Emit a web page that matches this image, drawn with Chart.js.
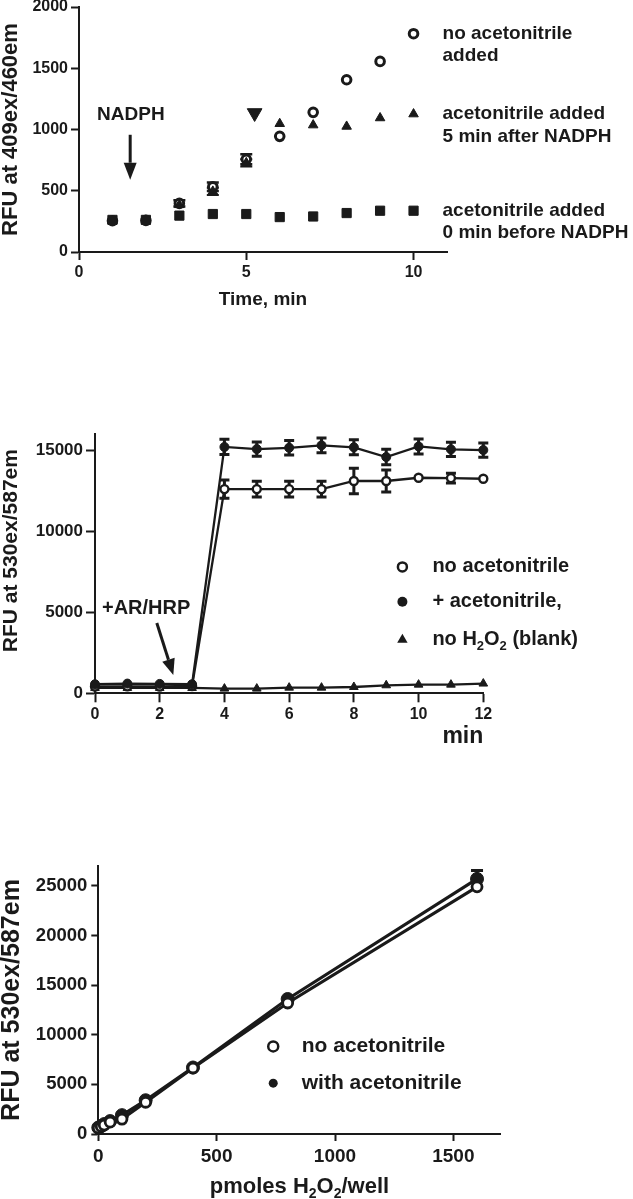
<!DOCTYPE html>
<html>
<head>
<meta charset="utf-8">
<script src="https://cdn.jsdelivr.net/npm/chart.js"></script>
<style>
  html, body { margin: 0; padding: 0; background: #fff; }
  body { width: 633px; height: 1199px; position: relative; overflow: hidden; }
  canvas { position: absolute; left: 0; }
</style>
</head>
<body>
<canvas id="nadph" width="633" height="330" style="top:-10px"></canvas>
<canvas id="kinetics" width="633" height="340" style="top:420px"></canvas>
<canvas id="standard" width="633" height="349" style="top:850px"></canvas>
<script>
// --- top panel: NADPH, RFU at 409ex/460em ---
const minutesA   = [1, 2, 3, 4, 5, 6, 7, 8, 9, 10];
const noAcnA     = [255, 258, 397, 533, 757, 944, 1140, 1406, 1556, 1782];
const noAcnErrA  = [0, 0, 25, 35, 40, 0, 0, 0, 0, 0];
const acn5A      = [255, 258, 385, 495, 728, 1047, 1036, 1025, 1094, 1126];
const acn5ErrA   = [0, 0, 0, 30, 30, 0, 0, 0, 0, 0];
const acn0A      = [262, 262, 297, 310, 310, 285, 290, 318, 337, 337];
const additionXA = [5.25];
const additionYA = [1135];
const xTicksA    = [0, 5, 10];
const yTicksA    = [0, 500, 1000, 1500, 2000];

// --- middle panel: AR/HRP kinetics, RFU at 530ex/587em ---
const minutesB    = [0, 1, 2, 3, 4, 5, 6, 7, 8, 9, 10, 11, 12];
const withAcnB    = [560, 600, 580, 560, 15200, 15070, 15150, 15300, 15180, 14580, 15230, 15050, 15010];
const withAcnErrB = [0, 0, 0, 0, 470, 440, 450, 450, 460, 480, 460, 440, 440];
const noAcnB      = [420, 430, 420, 450, 12600, 12600, 12600, 12600, 13100, 13100, 13300, 13280, 13240];
const noAcnErrB   = [0, 0, 0, 0, 560, 480, 480, 480, 780, 680, 0, 300, 0];
const blankB      = [330, 330, 330, 330, 290, 290, 350, 350, 390, 495, 535, 535, 600];
const xTicksB     = [0, 2, 4, 6, 8, 10, 12];
const yTicksB     = [0, 5000, 10000, 15000];

// --- bottom panel: H2O2 standard curve ---
const pmolesC     = [0, 12.5, 25, 50, 100, 200, 400, 800, 1600];
const noAcnC      = [600, 750, 900, 1200, 1500, 3200, 6650, 13200, 24900];
const withAcnC    = [650, 800, 1000, 1300, 1900, 3400, 6700, 13600, 25700];
const withAcnErrC = [0, 0, 0, 0, 0, 0, 0, 0, 850];
const xTicksC     = [0, 500, 1000, 1500];
const yTicksC     = [0, 5000, 10000, 15000, 20000, 25000];

const INK = '#1a1a1a';
const FONT = '"Liberation Sans", Arial, sans-serif';
Chart.defaults.font.family = FONT;
Chart.defaults.color = INK;

const pts = (xs, ys) => xs.map((x, i) => ({ x: x, y: ys[i] }));

function drawRich(ctx, text, x, y, size, align) {
  // "_2" parts are subscripts
  const parts = Array.isArray(text) ? text : [text];
  const big = 'bold ' + size + 'px ' + FONT;
  const small = 'bold ' + Math.round(size * 0.65) + 'px ' + FONT;
  let w = 0;
  parts.forEach(p => { ctx.font = p[0] === '_' ? small : big; w += ctx.measureText(p.replace(/^_/, '')).width; });
  let cx = align === 'center' ? x - w / 2 : align === 'right' ? x - w : x;
  ctx.textAlign = 'left';
  ctx.textBaseline = 'middle';
  parts.forEach(p => {
    const sub = p[0] === '_';
    const t = p.replace(/^_/, '');
    ctx.font = sub ? small : big;
    ctx.fillText(t, cx, sub ? y + size * 0.32 : y);
    cx += ctx.measureText(t).width;
  });
}

function drawMarker(ctx, kind, x, y, r) {
  ctx.beginPath();
  if (kind === 'triangle') {
    ctx.moveTo(x, y - r);
    ctx.lineTo(x + r * 0.866, y + r / 2);
    ctx.lineTo(x - r * 0.866, y + r / 2);
    ctx.closePath();
    ctx.fill();
  } else {
    ctx.arc(x, y, r, 0, Math.PI * 2);
    if (kind === 'open') { ctx.fillStyle = '#fff'; ctx.fill(); ctx.fillStyle = INK; ctx.stroke(); }
    else ctx.fill();
  }
}

const errorBars = {
  id: 'errorBars',
  beforeDatasetsDraw(chart) {
    const ctx = chart.ctx, ys = chart.scales.y;
    chart.data.datasets.forEach((ds, i) => {
      if (!ds.errors) return;
      const meta = chart.getDatasetMeta(i);
      ctx.save();
      ctx.strokeStyle = INK;
      ctx.lineWidth = ds.errWidth || 2;
      ds.data.forEach((p, j) => {
        const e = ds.errors[j];
        if (!e) return;
        const px = meta.data[j].x;
        const top = ys.getPixelForValue(p.y + e), bot = ys.getPixelForValue(p.y - e);
        const c = ds.capHalf || 5;
        ctx.beginPath();
        ctx.moveTo(px, top); ctx.lineTo(px, bot);
        ctx.moveTo(px - c, top); ctx.lineTo(px + c, top);
        ctx.moveTo(px - c, bot); ctx.lineTo(px + c, bot);
        ctx.stroke();
      });
      ctx.restore();
    });
  }
};

const notes = {
  id: 'notes',
  afterDraw(chart, args, opts) {
    const ctx = chart.ctx, xs = chart.scales.x, ys = chart.scales.y, area = chart.chartArea;
    ctx.save();
    ctx.fillStyle = INK;
    ctx.strokeStyle = INK;
    (opts.items || []).forEach(it => {
      if (it.type === 'arrow') {
        const x1 = xs.getPixelForValue(it.x1), y1 = ys.getPixelForValue(it.y1);
        const x2 = xs.getPixelForValue(it.x2), y2 = ys.getPixelForValue(it.y2);
        const a = Math.atan2(y2 - y1, x2 - x1);
        const bx = x2 - Math.cos(a) * it.head, by = y2 - Math.sin(a) * it.head;
        ctx.lineWidth = it.width;
        ctx.beginPath(); ctx.moveTo(x1, y1); ctx.lineTo(bx, by); ctx.stroke();
        ctx.beginPath();
        ctx.moveTo(x2, y2);
        ctx.lineTo(bx + Math.sin(a) * it.half, by - Math.cos(a) * it.half);
        ctx.lineTo(bx - Math.sin(a) * it.half, by + Math.cos(a) * it.half);
        ctx.closePath(); ctx.fill();
      } else if (it.type === 'legend') {
        const mx = xs.getPixelForValue(it.x);
        it.rows.forEach(r => {
          const my = ys.getPixelForValue(r.y);
          ctx.lineWidth = 2.5;
          drawMarker(ctx, r.marker, mx, my, r.r);
          drawRich(ctx, r.text, mx + it.dx, my, it.size, 'left');
        });
      } else if (it.type === 'side') {
        const x = xs.getPixelForValue(it.x) + it.dx, y = ys.getPixelForValue(it.y);
        it.lines.forEach((l, k) => drawRich(ctx, l, x, y + k * it.gap, it.size, 'left'));
      } else if (it.type === 'xtitle') {
        drawRich(ctx, it.text, (area.left + area.right) / 2, area.bottom + it.dy, it.size, 'center');
      } else if (it.type === 'ytitle') {
        ctx.save();
        ctx.translate(it.x, (area.top + area.bottom) / 2 + it.dy);
        ctx.rotate(-Math.PI / 2);
        drawRich(ctx, it.text, 0, 0, it.size, 'center');
        ctx.restore();
      } else {
        drawRich(ctx, it.text, xs.getPixelForValue(it.x), ys.getPixelForValue(it.y), it.size, it.align || 'center');
      }
    });
    ctx.restore();
  }
};

function axes(p) {
  const common = (ticks, size, len, pad) => ({
    type: 'linear',
    afterBuildTicks: s => { s.ticks = ticks.map(v => ({ value: v })); },
    grid: { display: true, drawOnChartArea: false, drawTicks: true, tickLength: len, tickWidth: 2, tickColor: INK, color: INK },
    border: { display: true, color: INK, width: 2 },
    ticks: { padding: pad, color: INK, autoSkip: false, maxRotation: 0, font: { size: size, weight: 'bold' }, callback: v => String(v) }
  });
  const x = Object.assign(common(p.xTicks, p.xTickSize, p.tickLen, p.tickPad), {
    min: p.xMin, max: p.xMax,
    afterFit: s => { s.height = p.xHeight; },
    title: p.xTitle || { display: false }
  });
  const y = Object.assign(common(p.yTicks, p.yTickSize, p.tickLen, p.tickPad), {
    min: p.yMin, max: p.yMax,
    afterFit: s => { s.width = p.yWidth; },
    title: p.yTitle || { display: false }
  });
  return { x: x, y: y };
}

const baseOptions = (padding, scales, items) => ({
  responsive: false,
  animation: false,
  events: [],
  layout: { padding: padding, autoPadding: false },
  scales: scales,
  plugins: { legend: { display: false }, tooltip: { enabled: false }, notes: { items: items } }
});

// top panel
new Chart(document.getElementById('nadph'), {
  type: 'line',
  data: {
    datasets: [
      { label: 'acetonitrile added 0 min before NADPH', data: pts(minutesA, acn0A), showLine: false,
        pointStyle: 'rect', pointRadius: 6.5, pointBackgroundColor: INK, pointBorderColor: INK, pointBorderWidth: 1, clip: false },
      { label: 'acetonitrile added 5 min after NADPH', data: pts(minutesA, acn5A), errors: acn5ErrA, capHalf: 6, errWidth: 2,
        showLine: false, pointStyle: 'triangle', pointRadius: 5.5, pointBackgroundColor: INK, pointBorderColor: INK, pointBorderWidth: 1, clip: false },
      { label: 'no acetonitrile added', data: pts(minutesA, noAcnA), errors: noAcnErrA, capHalf: 6, errWidth: 2.5,
        showLine: false, pointStyle: 'circle', pointRadius: 4.3, pointBackgroundColor: '#fff', pointBorderColor: INK, pointBorderWidth: 3, clip: false },
      { label: 'acetonitrile addition', data: pts(additionXA, additionYA), showLine: false,
        pointStyle: 'triangle', pointRotation: 180, pointRadius: 8.5, pointBackgroundColor: INK, pointBorderColor: INK, pointBorderWidth: 1, clip: false }
    ]
  },
  options: baseOptions({ left: 0, right: 186, top: 17, bottom: 8 }, axes({
    xMin: 0, xMax: 11, xTicks: xTicksA, yMin: 0, yMax: 2000, yTicks: yTicksA,
    xTickSize: 16, yTickSize: 16, tickLen: 8, tickPad: 3, xHeight: 60, yWidth: 79,
    xTitle: { display: true, text: 'Time, min', color: INK, font: { size: 19, weight: 'bold', lineHeight: 1 }, padding: { top: 0, bottom: 3 } },
    yTitle: { display: true, text: 'RFU at 409ex/460em', color: INK, font: { size: 22, weight: 'bold', lineHeight: 1 }, padding: { top: 0, bottom: 0 } }
  }), [
    { text: 'NADPH', x: 1.55, y: 1120, size: 19 },
    { type: 'arrow', x1: 1.53, y1: 957, x2: 1.53, y2: 590, width: 3, head: 17, half: 6.5 },
    { type: 'side', x: 10, y: noAcnA[9], dx: 29, gap: 22.5, size: 19, lines: ['no acetonitrile', 'added'] },
    { type: 'side', x: 10, y: acn5A[9], dx: 29, gap: 22.5, size: 19, lines: ['acetonitrile added', '5 min after NADPH'] },
    { type: 'side', x: 10, y: acn0A[9], dx: 29, gap: 22.5, size: 19, lines: ['acetonitrile added', '0 min before NADPH'] }
  ]),
  plugins: [errorBars, notes]
});

// middle panel
new Chart(document.getElementById('kinetics'), {
  type: 'line',
  data: {
    datasets: [
      { label: '+ acetonitrile,', data: pts(minutesB, withAcnB), errors: withAcnErrB, capHalf: 5, errWidth: 3,
        borderColor: INK, borderWidth: 2.3, tension: 0, pointStyle: 'circle', pointRadius: 4.5,
        pointBackgroundColor: INK, pointBorderColor: INK, pointBorderWidth: 1, clip: false },
      { label: 'no acetonitrile', data: pts(minutesB, noAcnB), errors: noAcnErrB, capHalf: 5, errWidth: 3,
        borderColor: INK, borderWidth: 2.3, tension: 0, pointStyle: 'circle', pointRadius: 4,
        pointBackgroundColor: '#fff', pointBorderColor: INK, pointBorderWidth: 2.4, clip: false },
      { label: 'no H2O2 (blank)', data: pts(minutesB, blankB),
        borderColor: INK, borderWidth: 2.3, tension: 0, pointStyle: 'triangle', pointRadius: 5,
        pointBackgroundColor: INK, pointBorderColor: INK, pointBorderWidth: 1, clip: false }
    ]
  },
  options: baseOptions({ left: 0, right: 149.7, top: 14, bottom: 11.7 }, axes({
    xMin: 0, xMax: 12, xTicks: xTicksB, yMin: 0, yMax: 16000, yTicks: yTicksB,
    xTickSize: 16, yTickSize: 17, tickLen: 9, tickPad: 3, xHeight: 55, yWidth: 95,
    xTitle: { display: true, text: 'min', align: 'end', color: INK, font: { size: 23, weight: 'bold', lineHeight: 1 }, padding: { top: 0, bottom: 0 } }
  }), [
    { type: 'ytitle', text: 'RFU at 530ex/587em', x: 11.5, dy: -13, size: 21 },
    { text: '+AR/HRP', x: 1.58, y: 5259, size: 20 },
    { type: 'arrow', x1: 1.91, y1: 4334, x2: 2.42, y2: 1128, width: 3, head: 16, half: 6.5 },
    { type: 'legend', x: 9.5, dx: 30, size: 20, rows: [
      { marker: 'open', r: 4.5, y: 7800, text: 'no acetonitrile' },
      { marker: 'filled', r: 5, y: 5650, text: '+ acetonitrile,' },
      { marker: 'triangle', r: 6, y: 3300, text: ['no H', '_2', 'O', '_2', ' (blank)'] }
    ] }
  ]),
  plugins: [errorBars, notes]
});

// bottom panel
new Chart(document.getElementById('standard'), {
  type: 'line',
  data: {
    datasets: [
      { label: 'no acetonitrile', data: pts(pmolesC, noAcnC),
        borderColor: INK, borderWidth: 3.2, tension: 0, pointStyle: 'circle', pointRadius: 5,
        pointBackgroundColor: '#fff', pointBorderColor: INK, pointBorderWidth: 2.8, clip: false },
      { label: 'with acetonitrile', data: pts(pmolesC, withAcnC), errors: withAcnErrC, capHalf: 6, errWidth: 3,
        borderColor: INK, borderWidth: 3.2, tension: 0, pointStyle: 'circle', pointRadius: 6.5,
        pointBackgroundColor: INK, pointBorderColor: INK, pointBorderWidth: 1, clip: false }
    ]
  },
  options: baseOptions({ left: 0, right: 132.3, top: 16, bottom: 0 }, axes({
    xMin: 0, xMax: 1700, xTicks: xTicksC, yMin: 0, yMax: 27000, yTicks: yTicksC,
    xTickSize: 19, yTickSize: 18.5, tickLen: 7, tickPad: 4, xHeight: 65, yWidth: 98.3,
    yTitle: { display: true, text: 'RFU at 530ex/587em', color: INK, font: { size: 25, weight: 'bold', lineHeight: 1 }, padding: { top: 0, bottom: 0 } }
  }), [
    { type: 'legend', x: 739, dx: 28.5, size: 21, rows: [
      { marker: 'open', r: 5, y: 8825, text: 'no acetonitrile' },
      { marker: 'filled', r: 4.5, y: 5125, text: 'with acetonitrile' }
    ] },
    { type: 'xtitle', dy: 52.7, size: 22, text: ['pmoles H', '_2', 'O', '_2', '/well'] }
  ]),
  plugins: [errorBars, notes]
});
</script>
</body>
</html>
